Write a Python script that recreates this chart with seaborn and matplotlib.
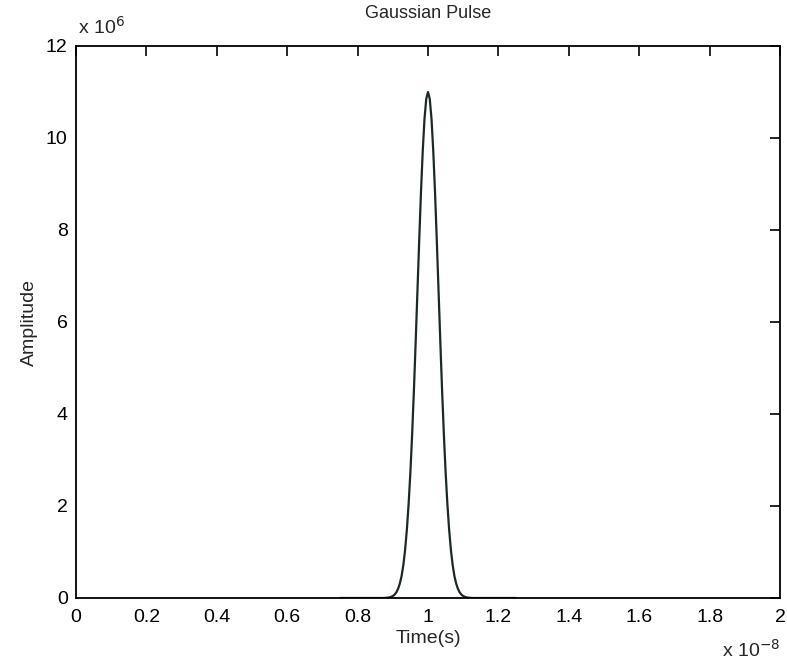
import matplotlib
matplotlib.use("Agg")
import matplotlib.pyplot as plt
import seaborn as sns
import pandas as pd

# Time in units of 1e-8 s, amplitude in units of 1e6
time_e8 = [0.75, 0.80, 0.85, 0.87, 0.875, 0.88, 0.885, 0.89, 0.895, 0.90, 0.905,
           0.91, 0.915, 0.92, 0.925, 0.93, 0.935, 0.94, 0.945, 0.95, 0.955,
           0.96, 0.965, 0.97, 0.975, 0.98, 0.985, 0.99, 0.995, 1.00,
           1.005, 1.01, 1.015, 1.02, 1.025, 1.03, 1.035, 1.04, 1.045, 1.05,
           1.055, 1.06, 1.065, 1.07, 1.075, 1.08, 1.085, 1.09, 1.095, 1.10,
           1.105, 1.11, 1.115, 1.12, 1.125, 1.13, 1.15, 1.20, 1.25]
amp_e6 = [0.0, 0.0, 0.0, 0.0, 0.0, 0.004, 0.007, 0.013, 0.024, 0.043, 0.073,
          0.122, 0.20, 0.314, 0.48, 0.72, 1.05, 1.49, 2.05, 2.74, 3.57,
          4.52, 5.57, 6.67, 7.77, 8.81, 9.71, 10.41, 10.85, 11.0,
          10.85, 10.41, 9.71, 8.81, 7.77, 6.67, 5.57, 4.52, 3.57, 2.74,
          2.05, 1.49, 1.05, 0.72, 0.48, 0.314, 0.20, 0.122, 0.073, 0.043,
          0.024, 0.013, 0.007, 0.004, 0.0, 0.0, 0.0, 0.0, 0.0]
x_ticks = [0, 0.2, 0.4, 0.6, 0.8, 1, 1.2, 1.4, 1.6, 1.8, 2]
x_tick_labels = ["0", "0.2", "0.4", "0.6", "0.8", "1", "1.2", "1.4", "1.6", "1.8", "2"]
y_ticks = [0, 2, 4, 6, 8, 10, 12]
y_tick_labels = ["0", "2", "4", "6", "8", "10", "12"]

sns.set_style("white")
plt.rcParams['font.family'] = ['Liberation Sans', 'DejaVu Sans']

df = pd.DataFrame({"t": time_e8, "a": amp_e6})

fig = plt.figure(figsize=(7.87, 6.65), dpi=100)
ax = fig.add_axes([76/787, 1 - 598/665, (780 - 76)/787, (598 - 46)/665])
sns.lineplot(data=df, x="t", y="a", ax=ax, color="#1c2a22", linewidth=1.6)

ax.set_xlim(0, 2)
ax.set_ylim(0, 12)
ax.set_xticks(x_ticks)
ax.set_xticklabels(x_tick_labels)
ax.set_yticks(y_ticks)
ax.set_yticklabels(y_tick_labels)
ax.tick_params(direction="in", length=7, width=1.2, top=True, right=True,
               labelsize=14, colors="black")
ax.tick_params(axis="x", pad=8)
ax.tick_params(axis="y", pad=6)
for s in ax.spines.values():
    s.set_visible(True)
    s.set_color("black")
    s.set_linewidth(1.3)

ax.set_xlabel("Time(s)", fontsize=14, labelpad=3)
ax.set_ylabel("Amplitude", fontsize=14, labelpad=6)
ax.set_title("Gaussian Pulse", fontsize=13, pad=20)

fig.text(78/787, 1 - 27/665, "x 10$^{6}$", fontsize=14, va="center", ha="left")
fig.text(780/787, 1 - 650/665, "x 10$^{-8}$", fontsize=14, va="center", ha="right")

fig.savefig("out.png", dpi=100)
